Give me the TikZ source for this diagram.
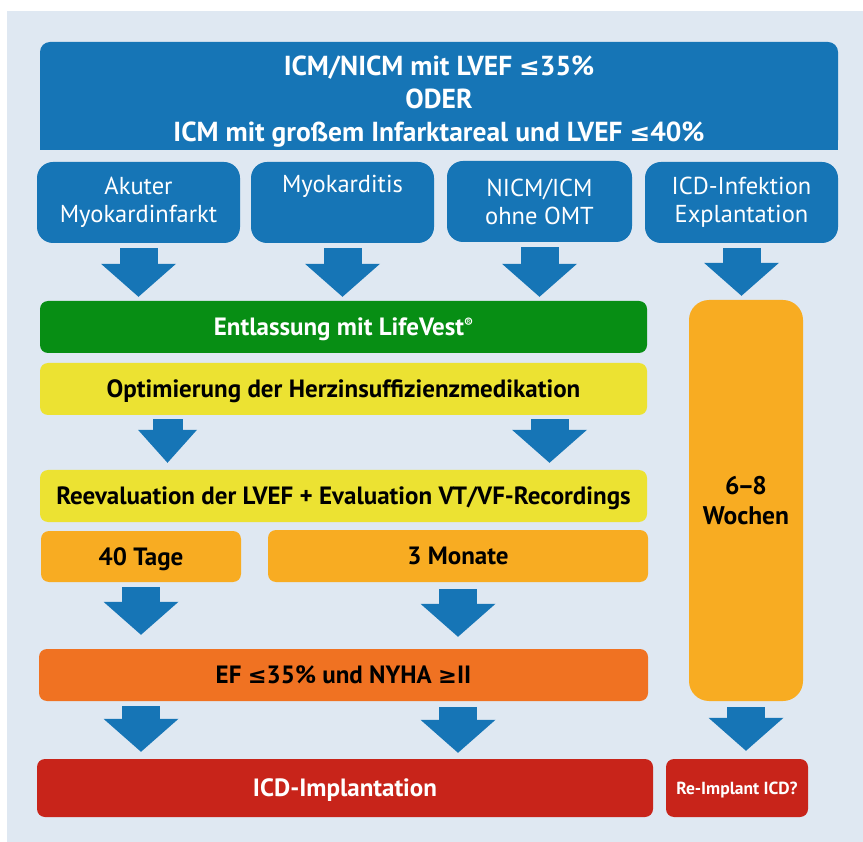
\documentclass[tikz,border=0pt]{standalone}
\usepackage{fontspec}
\setmainfont{PT Sans}
\newfontfamily\symf[Scale=0.9]{DejaVu Sans}
\usetikzlibrary{arrows.meta}
\definecolor{bgc}{HTML}{DFE8F2}
\definecolor{cblue}{HTML}{1675B6}
\definecolor{cgreen}{HTML}{078E14}
\definecolor{cyellow}{HTML}{ECE232}
\definecolor{corange}{HTML}{F8AC22}
\definecolor{cdark}{HTML}{F07222}
\definecolor{cred}{HTML}{C8241A}
\newcommand{\lesym}{{\symf\bfseries ≤}}
\newcommand{\gesym}{{\symf\bfseries ≥}}
\tikzset{
  box/.style={rounded corners=8pt,inner sep=0pt,align=center,text height=17.5pt,text depth=0pt,font=\bfseries\fontsize{25}{30}\selectfont},
  bluebox/.style={box,fill=cblue,text=white,rounded corners=16pt,minimum height=81pt,text height={},text depth={},font=\fontsize{24.5}{28}\selectfont},
  blockarr/.style={cblue,line width=38pt,-{Triangle[length=33pt,width=75pt,line width=0pt]}},
  smallarr/.style={cblue,line width=30pt,-{Triangle[length=33pt,width=59pt,line width=0pt]}},
}
\begin{document}
\begin{tikzpicture}[x=1pt,y=-1pt]
  \useasboundingbox (0,0) rectangle (863,842);
  \fill[bgc] (7,11) rectangle (863,842);

  % Top part of the Figure
  \fill[cblue] (40,96) rectangle (838,150);
  \node[box,fill=cblue,rounded corners=10pt,minimum width=798pt,minimum height=108pt] (hdr) at (439,96) {};
  \node[text=white,align=center,font=\bfseries\fontsize{27.5}{33}\selectfont]
        (hdrtxt)  at (439,102) {ICM/NICM mit LVEF \lesym35\%\\ODER\\ICM mit großem Infarktareal und LVEF \lesym40\%};
  \node[bluebox,minimum width=203pt] (akut)   at (138.5,202.5) {Akuter\\Myokardinfarkt};
  \node[bluebox,minimum width=183pt] (myo)    at (342.5,202.5) {Myokarditis\\\strut};
  \node[bluebox,minimum width=185pt] (nicm)   at (539.5,201.5) {NICM/ICM\\ohne OMT};
  \node[bluebox,minimum width=193pt] (infekt) at (741.5,202.5) {ICD-Infektion\\Explantation};

  % Middle part of the Figure
  \node[box,fill=cgreen,text=white,minimum width=607pt,minimum height=52pt] (lv)   at (343.5,327) {Entlassung mit LifeVest\raisebox{8pt}{\fontsize{13}{13}\selectfont ®}};
  \node[box,fill=cyellow,minimum width=607pt,minimum height=52pt]           (opt)  at (343.5,389) {Optimierung der Herzinsuffizienzmedikation};
  \node[box,fill=cyellow,minimum width=607pt,minimum height=52pt]           (reev) at (343.5,496) {Reevaluation der LVEF + Evaluation VT/VF-Recordings};
  \node[box,fill=corange,minimum width=200pt,minimum height=51pt]           (tag)  at (141,556.5) {40 Tage};
  \node[box,fill=corange,minimum width=380pt,minimum height=52pt]           (mon)  at (458,556) {3 Monate};
  \node[box,fill=corange,rounded corners=20pt,minimum width=114pt,minimum height=401pt,text height={},text depth={},font=\bfseries\fontsize{25.5}{30}\selectfont]
        (woch)    at (746,500.5) {6\kern-2pt–\kern-2pt8\\Wochen};

  % Bottom part of the Figure
  \node[box,fill=cdark,minimum width=609pt,minimum height=52pt]               (ef)    at (343.5,675) {EF \lesym35\% und NYHA \gesym II};
  \node[box,fill=cred,text=white,minimum width=616pt,minimum height=58pt]     (icd)   at (345,788) {ICD-Implantation};
  \node[box,fill=cred,text=white,minimum width=142pt,minimum height=58pt,text height=12pt,font=\bfseries\fontsize{17.5}{20}\selectfont]
        (reimp)   at (737,788) {Re-Implant ICD?};

  % Arrows
  \draw[blockarr] ([yshift=-5pt]akut.south)   -- ([yshift=4pt]akut.south |- lv.north);
  \draw[blockarr] ([yshift=-5pt]myo.south)    -- ([yshift=4pt]myo.south |- lv.north);
  \draw[blockarr] ([yshift=-5pt]nicm.south)   -- ([yshift=4pt]nicm.south |- lv.north);
  \draw[blockarr] ([yshift=-5pt]infekt.south) -- ([yshift=4pt]infekt.south |- woch.north);
  \draw[smallarr] ([xshift=-176pt,yshift=-4pt]opt.south) -- ([xshift=-176pt,yshift=7pt]reev.north);
  \draw[blockarr] ([xshift=206pt,yshift=-4pt]opt.south)  -- ([xshift=206pt,yshift=7pt]reev.north);
  \draw[blockarr] ([yshift=-5pt]tag.south)    -- ([yshift=14pt]tag.south |- ef.north);
  \draw[blockarr] ([yshift=-7pt]mon.south)    -- ([yshift=12pt]mon.south |- ef.north);
  \draw[blockarr] ([yshift=-5pt]ef.south -| tag.south) -- ([yshift=7pt]icd.north -| tag.south);
  \draw[blockarr] ([yshift=-6pt]ef.south -| mon.south) -- ([yshift=6pt]icd.north -| mon.south);
  \draw[blockarr] ([yshift=-6pt]woch.south)   -- ([yshift=8pt]woch.south |- reimp.north);
\end{tikzpicture}
\end{document}
